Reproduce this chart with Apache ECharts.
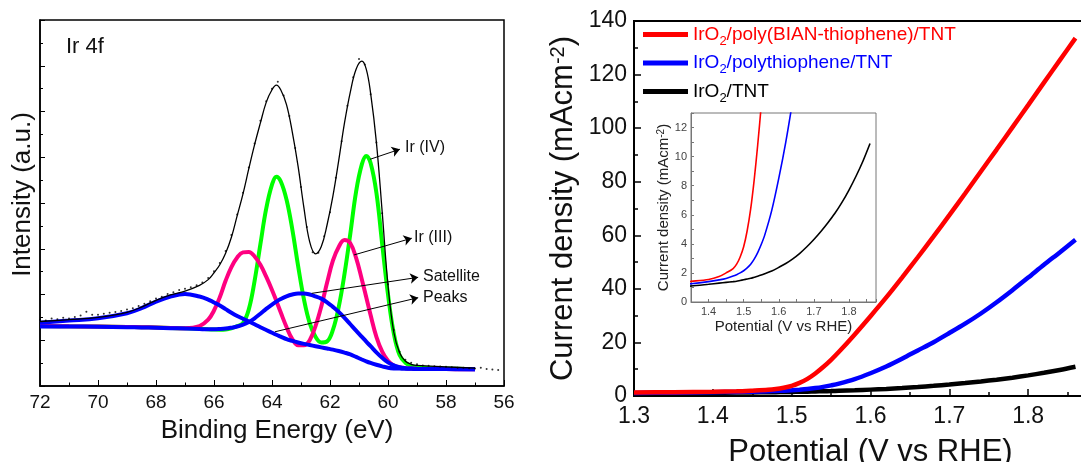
<!DOCTYPE html>
<html>
<head>
<meta charset="utf-8">
<title>Ir 4f XPS / LSV</title>
<script src="https://cdn.jsdelivr.net/npm/echarts@6/dist/echarts.min.js"></script>
<style>
html, body { margin: 0; padding: 0; background: #fff; }
#chart { width: 1081px; height: 462px; }
</style>
</head>
<body>
<div id="chart"></div>
<script>
// ---- left panel: Ir 4f XPS fit ----
var energy = [72, 71, 70, 69, 68.5, 68, 67.5, 67, 66.5, 66.2, 66, 65.8, 65.6, 65.4, 65.2, 65, 64.8, 64.6, 64.4, 64.2, 64, 63.85, 63.7, 63.5, 63.3, 63.1, 62.9, 62.7, 62.5, 62.3, 62.1, 61.9, 61.7, 61.5, 61.3, 61.1, 60.9, 60.75, 60.6, 60.4, 60.2, 60, 59.8, 59.6, 59.4, 59.2, 59, 58, 57];
var envelope = [2.82, 2.9, 3.0, 3.22, 3.45, 3.74, 3.98, 4.15, 4.4, 4.65, 4.95, 5.3, 5.8, 6.5, 7.45, 8.4, 9.5, 10.55, 11.5, 12.4, 12.95, 13.15, 12.95, 12.3, 11.1, 9.6, 7.8, 6.3, 5.78, 6.1, 7.05, 8.3, 9.85, 11.5, 12.85, 13.85, 14.2, 13.85, 12.8, 10.65, 7.6, 4.4, 2.35, 1.45, 1.08, 0.95, 0.9, 0.84, 0.78];
var irIV = [2.62, 2.61, 2.6, 2.58, 2.57, 2.56, 2.54, 2.52, 2.5, 2.48, 2.47, 2.46, 2.47, 2.52, 2.62, 2.75, 3.35, 4.6, 6.2, 7.75, 8.8, 9.15, 8.95, 8.15, 6.85, 5.25, 3.8, 2.75, 2.15, 1.9, 1.95, 2.45, 3.45, 4.9, 6.65, 8.5, 9.7, 10.06, 9.75, 8.45, 6.2, 4.0, 2.3, 1.35, 1.02, 0.88, 0.82, 0.76, 0.74];
var irIII = [2.62, 2.61, 2.6, 2.58, 2.57, 2.56, 2.54, 2.53, 2.62, 2.9, 3.3, 3.88, 4.6, 5.2, 5.62, 5.84, 5.86, 5.66, 5.3, 4.78, 4.2, 3.72, 3.22, 2.58, 2.05, 1.78, 1.78, 2.0, 2.62, 3.48, 4.52, 5.48, 6.08, 6.38, 6.24, 5.6, 4.65, 3.88, 3.1, 2.15, 1.5, 1.1, 0.9, 0.82, 0.78, 0.76, 0.75, 0.74, 0.73];
var satellite1 = [2.77, 2.86, 2.96, 3.18, 3.4, 3.69, 3.91, 4.02, 3.91, 3.78, 3.65, 3.52, 3.36, 3.2, 3.06, 2.94, 2.82, 2.7, 2.57, 2.45, 2.33, 2.24, 2.16, 2.05, 1.97, 1.9, 1.84, 1.79, 1.74, 1.69, 1.64, 1.59, 1.53, 1.46, 1.38, 1.27, 1.16, 1.08, 1.01, 0.93, 0.86, 0.8, 0.77, 0.76, 0.75, 0.75, 0.74, 0.74, 0.73];
var satellite2 = [2.6, 2.6, 2.59, 2.57, 2.56, 2.55, 2.53, 2.51, 2.49, 2.48, 2.48, 2.49, 2.51, 2.55, 2.6, 2.68, 2.8, 2.96, 3.16, 3.37, 3.56, 3.69, 3.8, 3.92, 4.0, 4.04, 4.04, 4.0, 3.92, 3.82, 3.66, 3.46, 3.24, 2.98, 2.7, 2.42, 2.15, 1.94, 1.74, 1.47, 1.23, 1.03, 0.9, 0.82, 0.78, 0.76, 0.75, 0.74, 0.73];
// raw counts (dots)
var measured = [[72.0, 2.9], [71.8, 2.86], [71.6, 2.95], [71.4, 2.92], [71.2, 2.98], [71.0, 2.95], [70.8, 3.02], [70.6, 3.08], [70.4, 3.25], [70.2, 3.12], [70.0, 3.12], [69.8, 3.16], [69.6, 3.2], [69.4, 3.24], [69.2, 3.28], [69.0, 3.34], [68.8, 3.4], [68.6, 3.5], [68.4, 3.6], [68.2, 3.7], [68.0, 3.82], [67.8, 3.9], [67.6, 4.02], [67.4, 4.1], [67.2, 4.2], [67.0, 4.25], [66.8, 4.32], [66.6, 4.4], [66.4, 4.52], [66.2, 4.72], [66.0, 5.02], [65.8, 5.38], [65.6, 5.9], [65.4, 6.6], [65.2, 7.5], [65.0, 8.45], [64.8, 9.55], [64.6, 10.6], [64.4, 11.6], [64.2, 12.45], [64.0, 13.0], [63.8, 13.3], [63.6, 12.7], [63.4, 11.8], [63.2, 10.4], [63.0, 8.7], [62.8, 6.95], [62.6, 5.85], [62.4, 5.82], [62.2, 6.55], [62.0, 7.6], [61.8, 9.1], [61.6, 10.7], [61.4, 12.25], [61.2, 13.5], [61.0, 14.3], [60.8, 14.05], [60.6, 12.75], [60.4, 10.65], [60.2, 7.55], [60.0, 4.45], [59.8, 2.45], [59.6, 1.5], [59.4, 1.15], [59.2, 1.02], [59.0, 0.95], [58.8, 0.9], [58.6, 0.88], [58.4, 0.86], [58.2, 0.85], [58.0, 0.84], [57.8, 0.82], [57.6, 0.8], [57.4, 0.8], [57.2, 0.78], [57.0, 0.76], [56.8, 0.8], [56.6, 0.74], [56.4, 0.72], [56.2, 0.7]];
// annotation arrows [from, to] in (eV, a.u.)
var arrows = [
	[[60.62, 9.91], [59.59, 10.35]],
	[[61.17, 5.73], [59.18, 6.46]],
	[[62.63, 4.05], [58.96, 4.75]],
	[[63.9, 2.37], [58.96, 3.86]]
];

// ---- right panel: LSV ----
var potential = [1.30, 1.35, 1.40, 1.43, 1.45, 1.47, 1.48, 1.49, 1.50, 1.51, 1.52, 1.53, 1.54, 1.55, 1.56, 1.58, 1.60, 1.62, 1.64, 1.66, 1.68, 1.70, 1.72, 1.74, 1.76, 1.78, 1.80, 1.82, 1.84, 1.86];
var jBian = [1.3, 1.42, 1.55, 1.75, 2.0, 2.3, 2.6, 3.1, 3.8, 4.9, 6.4, 8.4, 10.8, 13.5, 16.5, 23.0, 29.8, 36.8, 44.2, 51.8, 59.6, 67.5, 75.6, 83.8, 92.0, 100.3, 108.6, 117.0, 125.3, 133.6];
var jPoly = [1.15, 1.25, 1.4, 1.52, 1.62, 1.78, 1.88, 2.0, 2.15, 2.35, 2.6, 2.95, 3.4, 3.95, 4.6, 6.3, 8.5, 11.0, 13.9, 17.0, 20.1, 23.5, 27.0, 30.8, 35.0, 39.5, 44.2, 49.0, 53.6, 58.3];
var jBare = [1.05, 1.1, 1.22, 1.3, 1.35, 1.4, 1.43, 1.48, 1.53, 1.58, 1.63, 1.7, 1.77, 1.85, 1.94, 2.13, 2.38, 2.65, 2.97, 3.35, 3.8, 4.3, 4.85, 5.45, 6.1, 6.85, 7.7, 8.65, 9.7, 10.9];
var sampleNames = ['IrO2/poly(BIAN-thiophene)/TNT', 'IrO2/polythiophene/TNT', 'IrO2/TNT'];
var sampleColors = ['#ff0000', '#0000ff', '#000000'];
var sampleKeys = ['r', 'b', 'k'];

var font = '"Liberation Sans", Arial, sans-serif';

function pairs(xs, ys) {
	var out = [];
	for (var i = 0; i < xs.length; i++) {
		out.push([xs[i], ys[i]]);
	}
	return out;
}

var myChart = echarts.init(document.getElementById('chart'));

function fitLine(values, color, z) {
	return {
		type: 'line',
		xAxisIndex: 0,
		yAxisIndex: 0,
		data: pairs(energy, values),
		smooth: 0.4,
		symbol: 'none',
		silent: true,
		z: z,
		lineStyle: { color: color, width: 4 }
	};
}

function lsvLine(idx, ys, axis, width) {
	return {
		name: sampleNames[idx],
		type: 'line',
		xAxisIndex: axis,
		yAxisIndex: axis,
		data: pairs(potential, ys),
		smooth: 0.3,
		symbol: 'none',
		silent: true,
		color: sampleColors[idx],
		lineStyle: { color: sampleColors[idx], width: width }
	};
}

// legend: one block per sample so the rows sit where they should
var legendTops = [25, 53.5, 82];
var legendRich = {};
for (var k = 0; k < 3; k++) {
	legendRich[sampleKeys[k]] = { color: sampleColors[k], fontSize: 19, fontFamily: font, lineHeight: 26 };
	legendRich[sampleKeys[k] + 's'] = { color: sampleColors[k], fontSize: 13, fontFamily: font, lineHeight: 13, verticalAlign: 'bottom' };
}
var legends = [];
for (var i = 0; i < 3; i++) {
	legends.push({
		data: [sampleNames[i]],
		left: 643,
		top: legendTops[i],
		padding: 0,
		icon: 'rect',
		itemWidth: 45,
		itemHeight: 5,
		selectedMode: false,
		textStyle: { fontFamily: font, fontSize: 19, rich: legendRich },
		formatter: function(name) {
			var key = sampleKeys[sampleNames.indexOf(name)];
			return '{' + key + '|IrO}{' + key + 's|2}{' + key + '|' + name.slice(4) + '}';
		}
	});
}

var markArrows = [];
for (var a = 0; a < arrows.length; a++) {
	markArrows.push([{ coord: arrows[a][0] }, { coord: arrows[a][1] }]);
}

function annot(text, x, y, size) {
	return {
		type: 'text',
		x: x,
		y: y,
		silent: true,
		style: {
			text: text,
			font: size + 'px ' + font,
			fill: '#111',
			verticalAlign: 'middle',
			textVerticalAlign: 'middle'
		}
	};
}

var option = {
	animation: false,
	backgroundColor: '#fff',
	textStyle: { fontFamily: font },
	legend: legends,
	grid: [
		{ left: 40, top: 20, width: 464, height: 366, show: true, borderColor: '#000', borderWidth: 1.5, outerBoundsMode: 'none' },
		{ left: 634, top: 21, width: 473, height: 375, show: true, borderColor: '#000', borderWidth: 2, outerBoundsMode: 'none' },
		{ left: 691, top: 113, width: 185, height: 189, show: true, borderColor: '#777', borderWidth: 1, backgroundColor: '#fff', outerBoundsMode: 'none' }
	],
	xAxis: [{
		gridIndex: 0,
		type: 'value',
		min: 56,
		max: 72,
		interval: 2,
		inverse: true,
		name: 'Binding Energy (eV)',
		nameLocation: 'middle',
		nameGap: 32,
		nameTextStyle: { fontSize: 26, color: '#111', fontFamily: font, padding: [0, 0, 0, 10] },
		axisLine: { onZero: false, lineStyle: { color: '#000', width: 1.5 } },
		axisTick: { inside: true, length: 6 },
		minorTick: { show: true, splitNumber: 2, length: 3.5 },
		splitLine: { show: false },
		axisLabel: { fontSize: 19, color: '#111', margin: 7, fontFamily: font }
	}, {
		gridIndex: 1,
		type: 'value',
		min: 1.3,
		max: 1.9,
		interval: 0.1,
		name: 'Potential (V vs RHE)',
		nameLocation: 'middle',
		nameGap: 41,
		nameTextStyle: { fontSize: 31, color: '#111', fontFamily: font },
		axisLine: { onZero: false, lineStyle: { color: '#000', width: 2 } },
		axisTick: { inside: true, length: 7, lineStyle: { width: 1.5 } },
		minorTick: { show: true, splitNumber: 2, length: 4, lineStyle: { width: 1.5 } },
		splitLine: { show: false },
		axisLabel: {
			fontSize: 23, color: '#111', margin: 9, fontFamily: font,
			formatter: function(v) { return v.toFixed(1); }
		}
	}, {
		gridIndex: 2,
		type: 'value',
		min: 1.35,
		max: 1.877,
		interval: 0.05,
		name: 'Potential (V vs RHE)',
		nameLocation: 'middle',
		nameGap: 17,
		nameTextStyle: { fontSize: 15, color: '#222', fontFamily: font },
		axisLine: { onZero: false, lineStyle: { color: '#777', width: 1 } },
		axisTick: { inside: true, length: 3 },
		splitLine: { show: false },
		axisLabel: {
			fontSize: 11, color: '#444', margin: 4, fontFamily: font,
			formatter: function(v) {
				return Math.round(v * 100) % 10 === 0 ? v.toFixed(1) : '';
			}
		}
	}],
	yAxis: [{
		gridIndex: 0,
		type: 'value',
		min: 0,
		max: 16,
		interval: 2,
		name: 'Intensity (a.u.)',
		nameLocation: 'middle',
		nameGap: 4,
		nameTextStyle: { fontSize: 26, color: '#111', fontFamily: font, padding: [0, 0, 0, 17] },
		axisLine: { onZero: false, lineStyle: { color: '#000', width: 1.5 } },
		axisTick: { inside: true, length: 5 },
		minorTick: { show: true, splitNumber: 2, length: 3 },
		splitLine: { show: false },
		axisLabel: { show: false }
	}, {
		gridIndex: 1,
		type: 'value',
		min: 0,
		max: 140,
		interval: 20,
		name: 'Current density (mAcm{sup|-2})',
		nameLocation: 'middle',
		nameGap: 55,
		nameTextStyle: {
			fontSize: 31, color: '#111', fontFamily: font,
			rich: { sup: { fontSize: 20, fontFamily: font, color: '#111', verticalAlign: 'top' } }
		},
		axisLine: { onZero: false, lineStyle: { color: '#000', width: 2 } },
		axisTick: { inside: true, length: 7, lineStyle: { width: 1.5 } },
		minorTick: { show: true, splitNumber: 2, length: 4, lineStyle: { width: 1.5 } },
		splitLine: { show: false },
		axisLabel: { fontSize: 23, color: '#111', margin: 7, fontFamily: font }
	}, {
		gridIndex: 2,
		type: 'value',
		min: 0,
		max: 13,
		interval: 1,
		name: 'Current density (mAcm{sup|-2})',
		nameLocation: 'middle',
		nameGap: 18,
		nameTextStyle: {
			fontSize: 15, color: '#222', fontFamily: font,
			rich: { sup: { fontSize: 10, fontFamily: font, color: '#222', verticalAlign: 'top' } }
		},
		axisLine: { onZero: false, lineStyle: { color: '#777', width: 1 } },
		axisTick: { inside: true, length: 3 },
		splitLine: { show: false },
		axisLabel: {
			fontSize: 11, color: '#444', margin: 4, fontFamily: font,
			formatter: function(v) { return v % 2 === 0 ? String(v) : ''; }
		}
	}],
	graphic: [
		annot('Ir 4f', 66, 47, 22),
		annot('Ir (IV)', 405, 148, 16),
		annot('Ir (III)', 414, 238, 16),
		annot('Satellite', 423, 277, 16),
		annot('Peaks', 423, 298, 16)
	],
	series: [
		fitLine(irIV, '#00ff00', 2),
		fitLine(irIII, '#ff0080', 3),
		fitLine(satellite2, '#0000ff', 4),
		fitLine(satellite1, '#0000ff', 4),
		{
			type: 'line',
			xAxisIndex: 0,
			yAxisIndex: 0,
			data: pairs(energy, envelope),
			smooth: 0.4,
			symbol: 'none',
			silent: true,
			z: 5,
			lineStyle: { color: '#000', width: 1.3 },
			markLine: {
				silent: true,
				symbol: ['none', 'arrow'],
				symbolSize: 8,
				label: { show: false },
				lineStyle: { color: '#000', width: 1, type: 'solid' },
				data: markArrows
			}
		},
		{
			type: 'scatter',
			xAxisIndex: 0,
			yAxisIndex: 0,
			data: measured,
			symbolSize: 2,
			silent: true,
			z: 6,
			itemStyle: { color: '#000' }
		},
		lsvLine(2, jBare, 1, 4.5),
		lsvLine(1, jPoly, 1, 4.5),
		lsvLine(0, jBian, 1, 4.5),
		lsvLine(2, jBare, 2, 1.6),
		lsvLine(1, jPoly, 2, 1.6),
		lsvLine(0, jBian, 2, 1.6)
	]
};
myChart.setOption(option);
</script>
</body>
</html>
